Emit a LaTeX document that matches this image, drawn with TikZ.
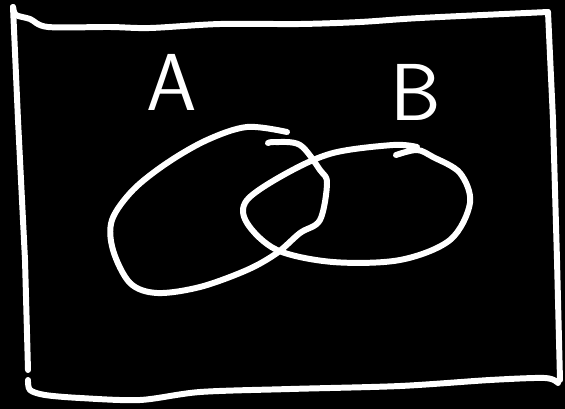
\documentclass[tikz,border=0pt]{standalone}
\usepackage{tikz}
\usetikzlibrary{positioning}
\tikzset{
  vnline/.style={draw=white, line width=3.4pt, line cap=round, line join=round},
  vnlabel/.style={text=white, inner sep=0pt, font=\sffamily\fontsize{46}{46}\selectfont}
}

\begin{document}
\begin{tikzpicture}[x=0.02cm, y=-0.02cm]
  \fill[black] (0,0) rectangle (565,409);
  \useasboundingbox (0,0) rectangle (565,409);
  % universe
  \draw[vnline] plot[smooth, tension=0.5] coordinates {(13,7) (16,15) (30,19) (48,27) (110,27) (150,28) (220,24) (300,24) (360,22) (420,18) (548,12)};
  \draw[vnline] (548,12) -- (553,120) -- (557,260) -- (560,380);
  \draw[vnline] (13,7) -- (18,120) -- (25,260) -- (28,370);
  \draw[vnline] plot[smooth, tension=0.5] coordinates {(28,380) (30,390) (45,395) (80,398) (140,400) (200,392) (290,389) (400,386) (490,380) (545,378) (558,383)};
  % sets
  \draw[vnline] plot[smooth, tension=0.55] coordinates {(287,132) (247,127) (207,140) (167,163) (133,190) (112,220) (113,250) (130,283) (157,293) (200,287) (247,270) (277,253) (300,233) (320,220) (327,183) (320,170) (300,145) (275,142) (268,143)};
  \draw[vnline] plot[smooth, tension=0.55] coordinates {(396,155) (417,150) (433,157) (460,173) (470,203) (450,240) (400,260) (333,262) (277,250) (247,223) (247,200) (287,173) (333,153) (393,145) (417,147)};
  \node[vnlabel] (labA) at (172,82) {A};
  \node[vnlabel] (labB) at (416,92) {B};
\end{tikzpicture}
\end{document}
